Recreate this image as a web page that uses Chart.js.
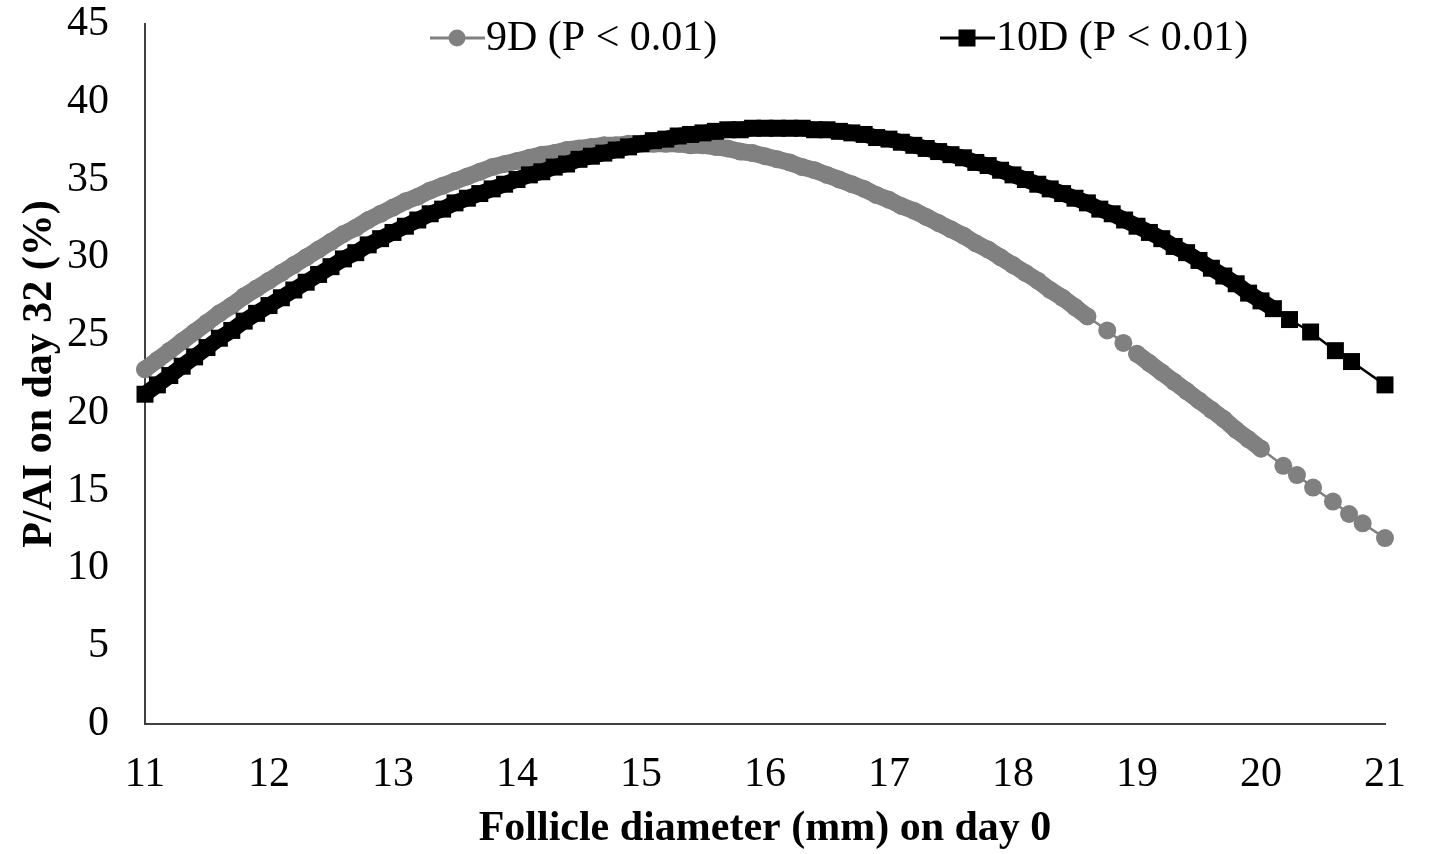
<!DOCTYPE html>
<html>
<head>
<meta charset="utf-8">
<title>P/AI on day 32 vs follicle diameter</title>
<script src="https://cdn.jsdelivr.net/npm/chart.js@4.4.0/dist/chart.umd.min.js"></script>
<style>
  html, body { margin: 0; padding: 0; background: #fff; }
  #wrap { width: 1429px; height: 854px; }
</style>
</head>
<body>
<div id="wrap"><canvas id="chart" width="1429" height="854"></canvas></div>
<script>
// follicle diameter (mm) on day 0 and fitted P/AI on day 32 (%)
var x9D = [11.0, 11.1, 11.2, 11.3, 11.4, 11.5, 11.6, 11.7, 11.8, 11.9,
           12.0, 12.1, 12.2, 12.3, 12.4, 12.5, 12.6, 12.7, 12.8, 12.9,
           13.0, 13.1, 13.2, 13.3, 13.4, 13.5, 13.6, 13.7, 13.8, 13.9,
           14.0, 14.1, 14.2, 14.3, 14.4, 14.5, 14.6, 14.7, 14.8, 14.9,
           15.0, 15.1, 15.2, 15.3, 15.4, 15.5, 15.6, 15.7, 15.8, 15.9,
           16.0, 16.1, 16.2, 16.3, 16.4, 16.5, 16.6, 16.7, 16.8, 16.9,
           17.0, 17.1, 17.2, 17.3, 17.4, 17.5, 17.6, 17.7, 17.8, 17.9,
           18.0, 18.1, 18.2, 18.3, 18.4, 18.5, 18.6, 18.76, 18.89, 19.0,
           19.1, 19.2, 19.3, 19.4, 19.5, 19.6, 19.7, 19.8, 19.9, 20.0,
           20.18, 20.29, 20.42, 20.58, 20.71, 20.82, 21.0];
var y9D = [22.8, 23.4, 24.0, 24.6, 25.2, 25.8, 26.4, 26.9, 27.5, 28.0,
           28.5, 29.0, 29.5, 30.0, 30.5, 31.0, 31.5, 31.9, 32.4, 32.8,
           33.2, 33.6, 33.9, 34.3, 34.6, 34.9, 35.2, 35.5, 35.8, 36.0,
           36.2, 36.4, 36.6, 36.7, 36.9, 37.0, 37.1, 37.2, 37.2, 37.3,
           37.3, 37.3, 37.3, 37.3, 37.2, 37.2, 37.1, 37.0, 36.8, 36.7,
           36.5, 36.3, 36.1, 35.8, 35.6, 35.3, 35.0, 34.7, 34.4, 34.0,
           33.7, 33.3, 33.0, 32.6, 32.2, 31.8, 31.4, 30.9, 30.5, 30.0,
           29.5, 29.0, 28.5, 27.9, 27.4, 26.8, 26.2, 25.3, 24.5, 23.8,
           23.2, 22.6, 22.0, 21.4, 20.8, 20.2, 19.6, 18.9, 18.3, 17.7,
           16.6, 16.0, 15.2, 14.3, 13.5, 12.9, 11.95];

var x10D = [11.0, 11.1, 11.2, 11.3, 11.4, 11.5, 11.6, 11.7, 11.8, 11.9,
            12.0, 12.1, 12.2, 12.3, 12.4, 12.5, 12.6, 12.7, 12.8, 12.9,
            13.0, 13.1, 13.2, 13.3, 13.4, 13.5, 13.6, 13.7, 13.8, 13.9,
            14.0, 14.1, 14.2, 14.3, 14.4, 14.5, 14.6, 14.7, 14.8, 14.9,
            15.0, 15.1, 15.2, 15.3, 15.4, 15.5, 15.6, 15.7, 15.8, 15.9,
            16.0, 16.1, 16.2, 16.3, 16.4, 16.5, 16.6, 16.7, 16.8, 16.9,
            17.0, 17.1, 17.2, 17.3, 17.4, 17.5, 17.6, 17.7, 17.8, 17.9,
            18.0, 18.1, 18.2, 18.3, 18.4, 18.5, 18.6, 18.7, 18.8, 18.9,
            19.0, 19.1, 19.2, 19.3, 19.4, 19.5, 19.6, 19.7, 19.8, 19.9,
            20.0, 20.1, 20.23, 20.4, 20.6, 20.73, 21.0];
var y10D = [21.2, 21.8, 22.4, 23.0, 23.6, 24.2, 24.8, 25.3, 25.9, 26.4,
            26.9, 27.4, 27.9, 28.4, 28.9, 29.4, 29.9, 30.3, 30.8, 31.2,
            31.6, 32.0, 32.4, 32.8, 33.1, 33.5, 33.8, 34.1, 34.4, 34.7,
            35.0, 35.3, 35.5, 35.8, 36.0, 36.3, 36.5, 36.7, 36.9, 37.1,
            37.3, 37.5, 37.6, 37.8, 37.9, 38.0, 38.1, 38.2, 38.2, 38.3,
            38.3, 38.3, 38.3, 38.3, 38.2, 38.2, 38.1, 38.0, 37.9, 37.7,
            37.6, 37.4, 37.2, 37.0, 36.8, 36.6, 36.4, 36.1, 35.9, 35.6,
            35.3, 35.0, 34.7, 34.4, 34.1, 33.8, 33.5, 33.1, 32.8, 32.4,
            32.0, 31.6, 31.2, 30.7, 30.3, 29.8, 29.3, 28.8, 28.3, 27.7,
            27.2, 26.7, 26.0, 25.2, 24.0, 23.3, 21.8];

var labels = ['9D (P < 0.01)', '10D (P < 0.01)'];
var colors = ['#808080', '#000000'];
var xMin = 11, xMax = 21, xStep = 1;
var yMin = 0, yMax = 45, yStep = 5;

var serif = '"Liberation Serif", "Times New Roman", serif';

function toPoints(xs, ys) {
    var pts = [];
    for (var i = 0; i < xs.length; i++) pts.push({x: xs[i], y: ys[i]});
    return pts;
}

// where the measurements are dense the markers merge into one thick band,
// where they thin out only a hairline joins them
function bandWidth(thick) {
    return function(ctx) {
        return (ctx.p1.parsed.x - ctx.p0.parsed.x) > 0.105 ? 2.5 : thick;
    };
}

// legend drawn inside the plot, like the original (line + marker + text)
var topLegend = {
    id: 'topLegend',
    afterDraw: function(chart) {
        var ctx = chart.ctx;
        var items = [
            {x: 430, style: 'circle'},
            {x: 940, style: 'rect'}
        ];
        var y = 38;
        ctx.save();
        ctx.font = '42px ' + serif;
        ctx.textBaseline = 'middle';
        items.forEach(function(it, i) {
            ctx.strokeStyle = colors[i];
            ctx.fillStyle = colors[i];
            ctx.lineWidth = 3;
            ctx.beginPath();
            ctx.moveTo(it.x, y);
            ctx.lineTo(it.x + 55, y);
            ctx.stroke();
            ctx.beginPath();
            if (it.style === 'circle') {
                ctx.arc(it.x + 27, y, 8.5, 0, Math.PI * 2);
            } else {
                ctx.rect(it.x + 27 - 8.5, y - 8.5, 17, 17);
            }
            ctx.fill();
            ctx.fillStyle = '#000';
            ctx.fillText(labels[i], it.x + 56, y + 1);
        });
        ctx.restore();
    }
};

var chart = new Chart(document.getElementById('chart').getContext('2d'), {
    type: 'scatter',
    data: {
        datasets: [{
            label: labels[0],
            data: toPoints(x9D, y9D),
            showLine: true,
            borderColor: colors[0],
            backgroundColor: colors[0],
            borderWidth: 2.5,
            borderJoinStyle: 'round',
            borderCapStyle: 'round',
            segment: { borderWidth: bandWidth(17) },
            pointStyle: 'circle',
            pointRadius: 9,
            pointBorderWidth: 0,
            pointHoverRadius: 9,
            order: 2,
            clip: false
        }, {
            label: labels[1],
            data: toPoints(x10D, y10D),
            showLine: true,
            borderColor: colors[1],
            backgroundColor: colors[1],
            borderWidth: 2.5,
            borderJoinStyle: 'miter',
            borderCapStyle: 'butt',
            segment: { borderWidth: bandWidth(16) },
            pointStyle: 'rect',
            pointRadius: 12,
            pointBorderWidth: 0,
            pointHoverRadius: 12,
            order: 1,
            clip: false
        }]
    },
    options: {
        responsive: false,
        animation: false,
        devicePixelRatio: 1,
        layout: { padding: { left: 0, right: 44, top: 24, bottom: 0 } },
        plugins: {
            legend: { display: false },
            tooltip: { enabled: false }
        },
        scales: {
            x: {
                type: 'linear',
                min: xMin, max: xMax,
                grid: { display: false, drawTicks: false },
                border: { display: true, color: '#404040', width: 2 },
                ticks: {
                    stepSize: xStep,
                    padding: 26,
                    color: '#000',
                    font: { family: serif, size: 42 },
                    maxRotation: 0
                },
                title: {
                    display: true,
                    text: 'Follicle diameter (mm) on day 0',
                    color: '#000',
                    font: { family: serif, size: 42, weight: 'bold' },
                    padding: { top: 0, bottom: 0 }
                },
                afterFit: function(scale) {
                    scale.height = 130;
                    scale.paddingLeft = 0;
                    scale.paddingRight = 0;
                }
            },
            y: {
                type: 'linear',
                min: yMin, max: yMax,
                grid: { display: false, drawTicks: false },
                border: { display: true, color: '#404040', width: 2 },
                ticks: {
                    stepSize: yStep,
                    padding: 36,
                    color: '#000',
                    font: { family: serif, size: 42 }
                },
                title: {
                    display: true,
                    text: 'P/AI on day 32 (%)',
                    color: '#000',
                    font: { family: serif, size: 42, weight: 'bold' },
                    padding: { top: 15, bottom: 0 }
                },
                afterFit: function(scale) {
                    scale.width = 145;
                    scale.paddingTop = 0;
                    scale.paddingBottom = 0;
                }
            }
        }
    },
    plugins: [topLegend]
});
</script>
</body>
</html>
